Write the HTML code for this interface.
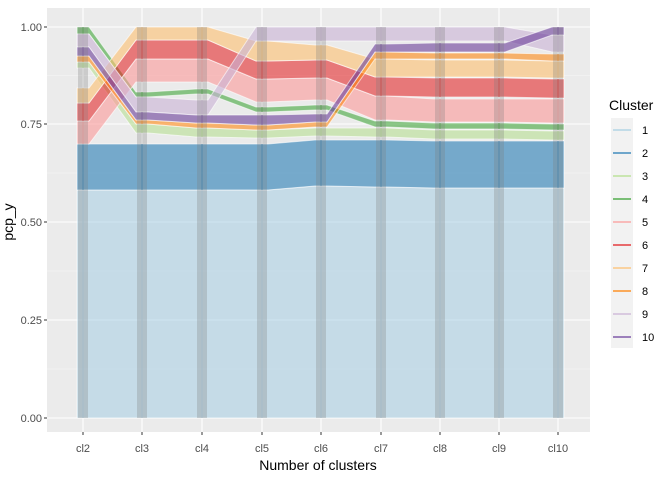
<!DOCTYPE html>
<html><head><meta charset="utf-8"><style>
body{margin:0;background:#fff;}
svg{display:block;font-family:"Liberation Sans",Arial,sans-serif;}
</style></head><body>
<svg id="s" width="672" height="480" xmlns="http://www.w3.org/2000/svg">
<rect x="47" y="8" width="543" height="424" fill="#EBEBEB"/>
<g stroke="#F7F7F7" stroke-width="0.6">
<line x1="47" x2="590" y1="75.5" y2="75.5"/><line x1="47" x2="590" y1="173" y2="173"/>
<line x1="47" x2="590" y1="271" y2="271"/><line x1="47" x2="590" y1="369" y2="369"/>
</g>
<g stroke="#fff" stroke-width="1.1" id="grid"></g>
<g id="bands"></g>
<g id="bars"></g>
<g font-size="11" fill="#4D4D4D" text-anchor="end">
<text x="42" y="31">1.00</text><text x="42" y="128">0.75</text><text x="42" y="226">0.50</text>
<text x="42" y="324">0.25</text><text x="42" y="422">0.00</text>
</g>
<g stroke="#333" stroke-width="1" id="ticks"></g>
<g font-size="11" fill="#4D4D4D" text-anchor="middle" id="xl"></g>
<text x="318" y="470" font-size="14" text-anchor="middle" fill="#000">Number of clusters</text>
<text transform="translate(13,222) rotate(-90)" font-size="14" text-anchor="middle" fill="#000">pcp_y</text>
<text x="609" y="110" font-size="14" fill="#000">Cluster</text>
<g id="leg"></g>
</svg>
<script>
var NS="http://www.w3.org/2000/svg";
function el(p,t,a){var e=document.createElementNS(NS,t);for(var k in a)e.setAttribute(k,a[k]);p.appendChild(e);return e;}
var X=[83,142,202,262,321,381,440,499,558];
var g=document.getElementById('grid'),tk=document.getElementById('ticks'),xl=document.getElementById('xl');
[27,124,222,320,418].forEach(function(y){el(g,'line',{x1:47,x2:590,y1:y,y2:y});});
X.forEach(function(x,i){el(g,'line',{x1:x,x2:x,y1:8,y2:432});el(tk,'line',{x1:x,x2:x,y1:432,y2:435});
var t=el(xl,'text',{x:x,y:452});t.textContent='cl'+(i+2);});
[27,124,222,320,418].forEach(function(y){el(tk,'line',{x1:44,x2:47,y1:y,y2:y});});
var C=['#A6CEE3','#1F78B4','#B2DF8A','#33A02C','#FB9A99','#E31A1C','#FDBF6F','#FF7F00','#CAB2D6','#6A3D9A'];
var OP=[0.55,0.58,0.55,0.55,0.6,0.55,0.6,0.55,0.6,0.6];
var D=[
[[190,418],[190,418],[190,418],[190,418],[186,418],[187,418],[188,418],[188,418],[188,418]],
[[144,190],[144,190],[144,190],[144,190],[140,186],[140,187],[141,188],[141,188],[141,188]],
[[62,68],[124,133],[128,137],[130,138],[128,136],[128,137],[130,139],[130,139],[131,140]],
[[27,34],[92,97],[89,94],[107,112],[105,110],[121,127],[123,129],[123,129],[124,130]],
[[121,144],[59,82],[59,82],[79,102],[78,100],[96,120],[99,122],[99,122],[99,123]],
[[103,121],[40,59],[40,59],[61,79],[60,78],[77,96],[78,97],[78,97],[79,98]],
[[88,103],[27,40],[27,40],[41,61],[45,60],[59,77],[60,77],[60,77],[61,78]],
[[56,62],[120,124],[123,128],[125,130],[122,127],[52,59],[53,59],[53,59],[54,61]],
[[34,47],[97,112],[100,115],[27,41],[27,41],[27,41],[27,41],[27,41],[35,52]],
[[47,56],[112,120],[115,123],[115,125],[114,122],[44,52],[43,52],[43,52],[27,35]]];
var b=document.getElementById('bands');
D.forEach(function(d,c){var top=[],bot=[];
d.forEach(function(v,i){top.push((X[i]-6)+','+v[0]);top.push((X[i]+6)+','+v[0]);
bot.push((X[i]-6)+','+v[1]);bot.push((X[i]+6)+','+v[1]);});
bot.reverse();
el(b,'polygon',{points:top.concat(bot).join(' '),fill:C[c],'fill-opacity':OP[c],stroke:'#fff','stroke-opacity':0.6,'stroke-width':1});
d.forEach(function(v,i){el(b,'line',{x1:X[i],x2:X[i],y1:v[0],y2:v[1],stroke:C[c],'stroke-width':1,'stroke-opacity':0.6});});
});
var bs=document.getElementById('bars');
X.forEach(function(x){el(bs,'rect',{x:x-5,y:27,width:10,height:391,fill:'#7a7a7a','fill-opacity':0.28});});
var lg=document.getElementById('leg');
el(lg,'rect',{x:611,y:118,width:22,height:230,fill:'#F2F2F2'});
C.forEach(function(c,i){var y=130+i*23;el(lg,'line',{x1:613,x2:631,y1:y,y2:y,stroke:c,'stroke-width':1.2});
var t=el(lg,'text',{x:642,y:y+4,'font-size':11,fill:'#000'});t.textContent=i+1;});
</script>
</body></html>
